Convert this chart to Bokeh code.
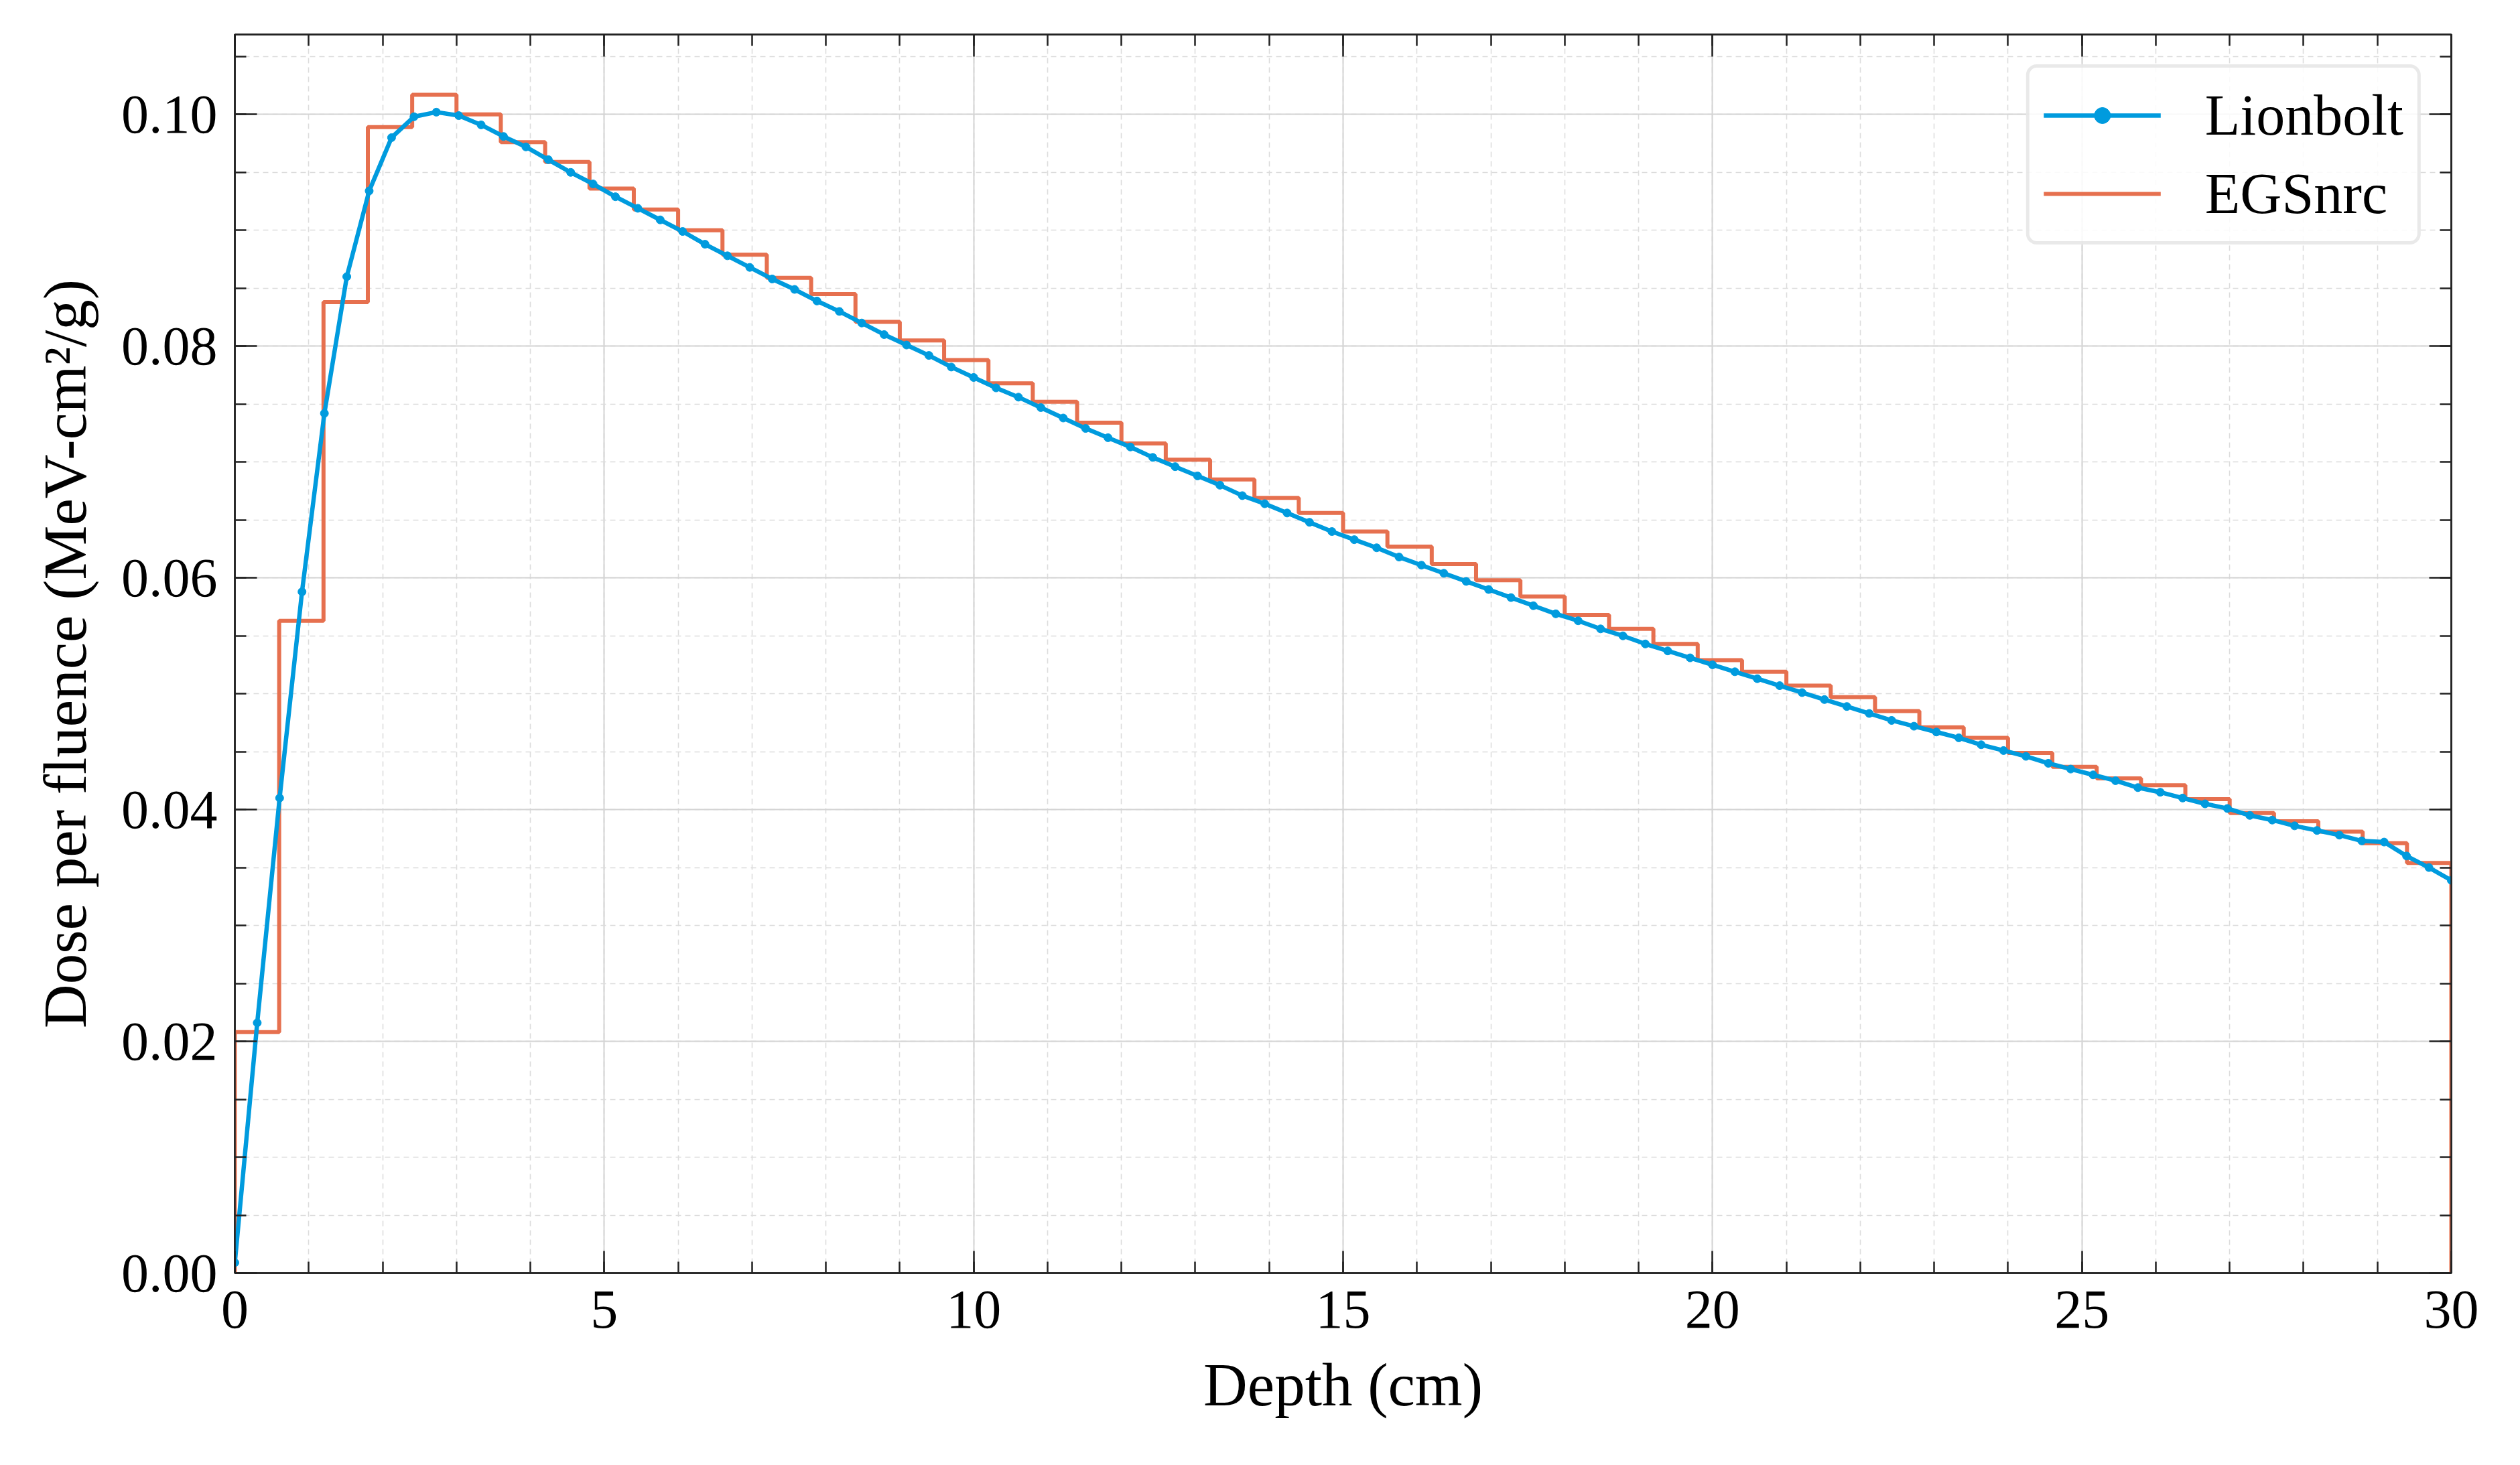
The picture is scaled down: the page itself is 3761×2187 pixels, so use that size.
import numpy as np
from bokeh.plotting import figure
from bokeh.models import LinearAxis, SingleIntervalTicker, Range1d, PrintfTickFormatter, Legend
from bokeh.embed import file_html
from bokeh.resources import INLINE

# ---------------- data ----------------
# Lionbolt: 100 depth samples from 0 to 30 cm
lionbolt_depth = np.linspace(0, 30, 100)
lionbolt_dose = [
    0.0009, 0.0216, 0.0410, 0.0588, 0.0742, 0.0860, 0.0934, 0.0980, 0.0998, 0.1002,
    0.0999, 0.0991, 0.0981, 0.0972, 0.0961, 0.0950, 0.0940, 0.0929, 0.0919, 0.0909,
    0.0899, 0.0888, 0.0878, 0.0868, 0.0858, 0.0849, 0.0839, 0.0830, 0.0820, 0.0810,
    0.0801, 0.0792, 0.0782, 0.0773, 0.0764, 0.0756, 0.0747, 0.0738, 0.0729, 0.0721,
    0.0713, 0.0704, 0.0696, 0.0688, 0.0680, 0.0671, 0.0664, 0.0656, 0.0648, 0.0640,
    0.0633, 0.0626, 0.0618, 0.0611, 0.0604, 0.0597, 0.0590, 0.0583, 0.0576, 0.0569,
    0.0563, 0.0556, 0.0550, 0.0543, 0.0537, 0.0531, 0.0525, 0.0519, 0.0513, 0.0507,
    0.0501, 0.0495, 0.0489, 0.0483, 0.0477, 0.0472, 0.0467, 0.0462, 0.0456, 0.0451,
    0.0446, 0.0440, 0.0435, 0.0430, 0.0425, 0.0419, 0.0415, 0.0410, 0.0405, 0.0401,
    0.0395, 0.0391, 0.0386, 0.0382, 0.0378, 0.0373, 0.0372, 0.0360, 0.0350, 0.0339,
]

# EGSnrc: 50 bins of 0.6 cm from 0 to 30 cm
egs_edges = np.linspace(0, 30, 51)
egs_dose = [
    0.0208, 0.0563, 0.0838, 0.0989, 0.1017, 0.1000, 0.0976, 0.0959, 0.0936, 0.0918,
    0.0900, 0.0879, 0.0859, 0.0845, 0.0821, 0.0805, 0.0788, 0.0768, 0.0752, 0.0734,
    0.0716, 0.0702, 0.0685, 0.0669, 0.0656, 0.0640, 0.0627, 0.0612, 0.0598, 0.0584,
    0.0568, 0.0556, 0.0543, 0.0529, 0.0519, 0.0507, 0.0497, 0.0485, 0.0471, 0.0462,
    0.0449, 0.0437, 0.0427, 0.0421, 0.0409, 0.0397, 0.0390, 0.0381, 0.0371, 0.0354,
]

x_label = "Depth (cm)"
y_label = "Dose per fluence (MeV-cm\u00b2/g)"

# ---------------- style ----------------
FONT = "Liberation Serif"
BLUE = "#009BDE"
ORANGE = "#E6704F"
AX = "#222222"

p = figure(width=3744, height=2170, output_backend="svg", toolbar_location=None,
           x_range=Range1d(0, 30), y_range=Range1d(0, 0.1069),
           min_border_left=350, min_border_right=86, min_border_top=51,
           min_border_bottom=270)
p.background_fill_color = "white"
p.border_fill_color = "white"
p.outline_line_color = AX
p.outline_line_width = 2.5

xt = SingleIntervalTicker(interval=5, num_minor_ticks=5)
yt = SingleIntervalTicker(interval=0.02, num_minor_ticks=4)

# step outline for EGSnrc
sx = np.repeat(egs_edges, 2)
sy = np.concatenate([[0.0], np.repeat(egs_dose, 2), [0.0]])
p.line(sx, sy, line_color=ORANGE, line_width=6, legend_label="EGSnrc")

p.line(lionbolt_depth, lionbolt_dose, line_color=BLUE, line_width=6.5, legend_label="Lionbolt")
p.scatter(lionbolt_depth, lionbolt_dose, size=12, fill_color=BLUE, line_color=BLUE,
          legend_label="Lionbolt")

# axes
def style_axis(ax, labels=True):
    ax.axis_line_color = AX
    ax.axis_line_width = 2.5
    ax.major_tick_line_color = AX
    ax.major_tick_line_width = 2.5
    ax.minor_tick_line_color = AX
    ax.minor_tick_line_width = 2.5
    ax.major_tick_in = 33
    ax.major_tick_out = 0
    ax.minor_tick_in = 17
    ax.minor_tick_out = 0
    if labels:
        ax.major_label_text_font = FONT
        ax.major_label_text_font_size = "82px"
        ax.major_label_text_color = "black"
        ax.axis_label_text_font = FONT
        ax.axis_label_text_font_size = "91px"
        ax.axis_label_text_font_style = "normal"
        ax.axis_label_text_color = "black"
    else:
        ax.major_label_text_font_size = "1px"
        ax.major_label_text_color = None
        ax.major_label_standoff = 0

xa = p.xaxis[0]
ya = p.yaxis[0]
xa.ticker = xt
ya.ticker = yt
ya.formatter = PrintfTickFormatter(format="%.2f")
xa.axis_label = x_label
ya.axis_label = y_label
style_axis(xa)
style_axis(ya)
xa.major_label_standoff = 27
xa.axis_label_standoff = 32
ya.major_label_standoff = 26
ya.axis_label_standoff = 30

top = LinearAxis(ticker=SingleIntervalTicker(interval=5, num_minor_ticks=5))
right = LinearAxis(ticker=SingleIntervalTicker(interval=0.02, num_minor_ticks=4))
style_axis(top, labels=False)
style_axis(right, labels=False)
p.add_layout(top, "above")
p.add_layout(right, "right")

# grids
for g, t in ((p.xgrid[0], xt), (p.ygrid[0], yt)):
    g.ticker = t
    g.grid_line_color = "#d4d4d4"
    g.grid_line_width = 2
    g.minor_grid_line_color = "#dcdcdc"
    g.minor_grid_line_width = 1.6
    g.minor_grid_line_dash = "8 6"

# legend
lg = p.legend[0]
lg.location = "top_right"
lg.items = sorted(lg.items, key=lambda it: 0 if it.label.value == "Lionbolt" else 1)
lg.label_text_font = FONT
lg.label_text_font_size = "86px"
lg.label_text_color = "black"
lg.glyph_width = 175
lg.glyph_height = 60
lg.label_height = 60
lg.label_standoff = 66
lg.spacing = 17
lg.padding = 21
lg.margin = 45
lg.border_line_color = "#d4d4d4"
lg.border_line_width = 5
lg.background_fill_color = "white"
lg.background_fill_alpha = 0.85
if "border_radius" in Legend.properties():
    lg.border_radius = 16

open("out.html", "w").write(file_html(p, INLINE))
